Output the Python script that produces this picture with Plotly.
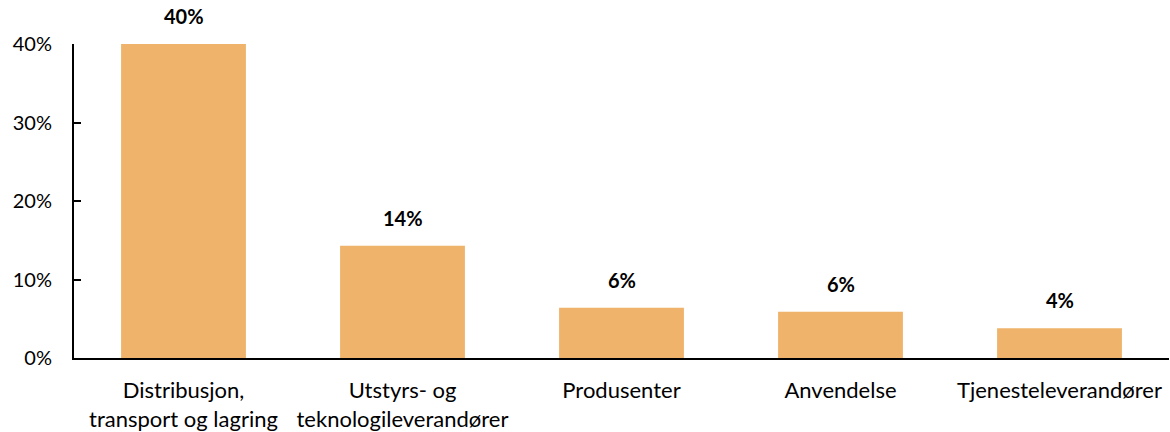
import plotly.graph_objects as go

categories = ["Distribusjon,<br>transport og lagring", "Utstyrs- og<br>teknologileverandører",
              "Produsenter", "Anvendelse", "Tjenesteleverandører"]
values = [40.0, 14.3, 6.4, 5.9, 3.8]
labels = ["40%", "14%", "6%", "6%", "4%"]
y_ticks = [0, 10, 20, 30, 40]
y_ticktext = ["0%", "10%", "20%", "30%", "40%"]

FONT = "Lato"
BAR = "#EFB36B"

fig = go.Figure(go.Bar(x=categories, y=values, marker=dict(color=BAR, line=dict(width=0)),
                       hoverinfo="skip"))

for c, v, t in zip(categories, values, labels):
    fig.add_annotation(x=c, y=v, text="<b>" + t + "</b>", showarrow=False,
                       yanchor="bottom", yshift=14,
                       font=dict(family=FONT, size=20, color="black"))

fig.update_layout(
    width=1170, height=432,
    margin=dict(l=74, r=1, t=44, b=74),
    plot_bgcolor="white", paper_bgcolor="white",
    bargap=0.43, showlegend=False,
    font=dict(family=FONT, size=20, color="black"),
)
fig.update_xaxes(showline=True, linecolor="black", linewidth=2, ticks="",
                 ticklabelstandoff=12,
                 tickfont=dict(family=FONT, size=22, color="black"))
fig.update_yaxes(range=[0, 40], tickvals=y_ticks, ticktext=y_ticktext,
                 showline=True, linecolor="black", linewidth=2, ticks="inside",
                 ticklen=7, tickcolor="black", tickwidth=2, showgrid=False, zeroline=False,
                 ticklabelstandoff=16,
                 tickfont=dict(family=FONT, size=20, color="black"))

fig.write_html("out.html", post_script="document.body.style.margin='0';",
               config={"displayModeBar": False})
